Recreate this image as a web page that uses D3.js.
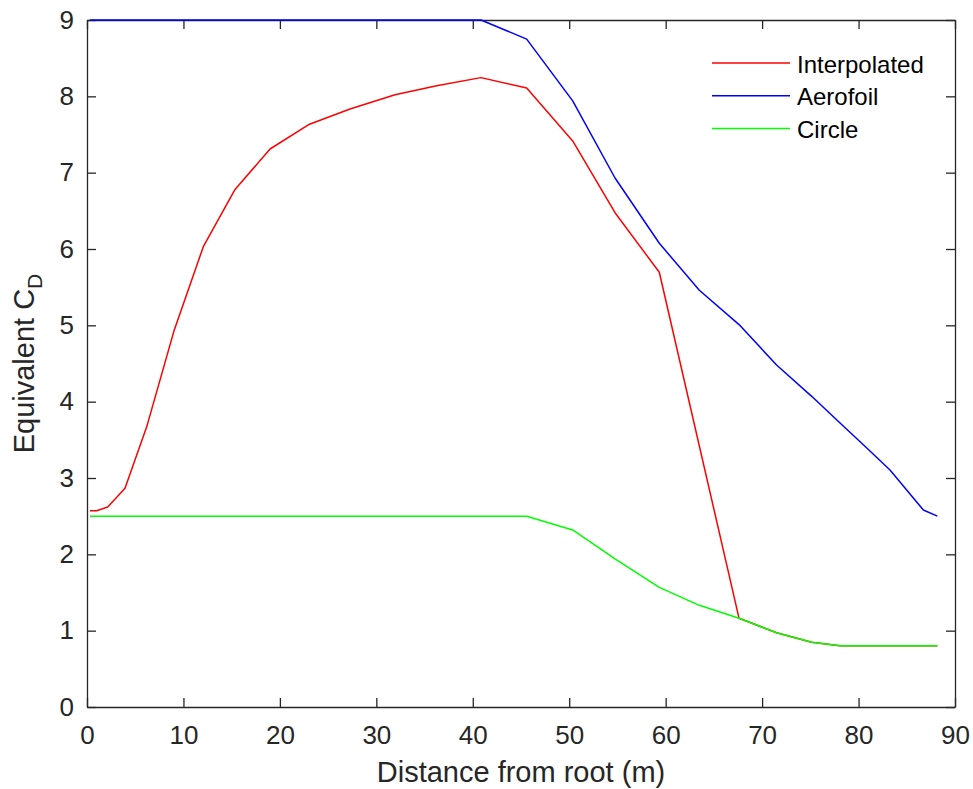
<!DOCTYPE html>
<html>
<head>
<meta charset="utf-8">
<script src="https://cdn.jsdelivr.net/npm/d3@7"></script>
<style>
  body { margin: 0; background: #fff; }
  svg { display: block; font-family: "Liberation Sans", Arial, sans-serif; }
</style>
</head>
<body>
<div id="chart"></div>
<script>
// distance from root (m) at each blade station
const distance = [0.31, 1.0, 2.15, 3.94, 6.19, 9.05, 12.06, 15.35, 18.98, 23.07, 27.27, 31.94, 36.26, 40.85,
    45.59, 50.36, 54.75, 59.34, 63.49, 67.61, 71.5, 75.14, 78.08, 80.8, 83.26, 86.72, 88.17];

// equivalent CD, one array per series (null = no vertex at that station)
const interpolated = [2.57, 2.57, 2.62, 2.865, 3.67, 4.94, 6.03, 6.78, 7.31, 7.635, 7.835, 8.02, 8.14, 8.245,
    8.11, 7.415, 6.475, 5.695, null, 1.162, 0.973, 0.848, 0.803, 0.803, 0.803, 0.803, 0.803];
const aerofoil = [9, 9, 9, 9, 9, 9, 9, 9, 9, 9, 9, 9, 9, 9,
    8.75, 7.94, 6.93, 6.075, 5.46, 5.01, 4.48, 4.07, 3.72, 3.4, 3.105, 2.58, 2.50];
const circle = [2.5, 2.5, 2.5, 2.5, 2.5, 2.5, 2.5, 2.5, 2.5, 2.5, 2.5, 2.5, 2.5, 2.5,
    2.5, 2.319, 1.94, 1.568, 1.332, 1.162, 0.973, 0.848, 0.803, 0.803, 0.803, 0.803, 0.803];

const seriesNames = ['Interpolated', 'Aerofoil', 'Circle'];
const seriesColours = ['#ff0000', '#0000ff', '#00ff00'];

const xTicks = d3.range(0, 91, 10);
const yTicks = d3.range(0, 10, 1);

drawChart();

function drawChart() {

    const width = 973;
    const height = 789;
    const margin = {top: 20, right: 18, bottom: 82, left: 87};
    const axisColour = '#262626';

    const svg = d3.select('#chart')
        .append('svg')
            .attr('width', width)
            .attr('height', height);

    // SCALES
    const x = d3.scaleLinear()
        .domain([0, 90])
        .range([margin.left, width - margin.right]);
    const y = d3.scaleLinear()
        .domain([0, 9])
        .range([height - margin.bottom, margin.top]);

    const line = d3.line()
        .x(d => x(d.x))
        .y(d => y(d.v));

    // AXES (box on, ticks inward on all four sides)
    const tickLen = 9;
    const xAxis = (g, pos, outer) =>
        g
            .attr('transform', `translate(0,${pos})`)
            .call(d3.axisBottom(x).tickValues(xTicks).tickSizeInner(outer ? -tickLen : tickLen).tickSizeOuter(0))
            .call(g => g.select('.domain').attr('stroke', axisColour).attr('stroke-width', 1.3));
    const yAxis = (g, pos, right) =>
        g
            .attr('transform', `translate(${pos},0)`)
            .call(d3.axisLeft(y).tickValues(yTicks).tickSizeInner(right ? tickLen : -tickLen).tickSizeOuter(0))
            .call(g => g.select('.domain').attr('stroke', axisColour).attr('stroke-width', 1.3));

    const bottom = svg.append('g').call(xAxis, y(0), true);
    bottom.selectAll('.tick text')
        .attr('y', 19)
        .attr('dy', '0.71em')
        .style('font-size', '26px')
        .attr('fill', axisColour);
    const left = svg.append('g').call(yAxis, x(0), false);
    left.selectAll('.tick text')
        .attr('x', -13)
        .style('font-size', '26px')
        .attr('fill', axisColour);
    const top = svg.append('g').call(xAxis, y(9), false);
    top.selectAll('.tick text').remove();
    const right = svg.append('g').call(yAxis, x(90), true);
    right.selectAll('.tick text').remove();
    svg.selectAll('.tick line').attr('stroke', axisColour).attr('stroke-width', 1.3);

    // axis labels
    svg.append('text')
        .attr('x', (x(0) + x(90)) / 2)
        .attr('y', 782)
        .attr('text-anchor', 'middle')
        .attr('fill', axisColour)
        .style('font-size', '29px')
        .text('Distance from root (m)');

    const yl = svg.append('text')
        .attr('transform', `translate(34,${(y(0) + y(9)) / 2}) rotate(-90)`)
        .attr('text-anchor', 'middle')
        .attr('fill', axisColour)
        .style('font-size', '29px');
    yl.append('tspan').text('Equivalent C');
    yl.append('tspan')
        .attr('dy', 8)
        .style('font-size', '21px')
        .text('D');

    // LINES
    const allSeries = [interpolated, aerofoil, circle];
    allSeries.forEach((vals, i) => {
        const pts = distance.map((d, j) => ({x: d, v: vals[j]}))
            .filter(d => d.v != null);
        svg.append('path')
            .datum(pts)
                .attr('fill', 'none')
                .attr('stroke', seriesColours[i])
                .attr('stroke-width', 1.5)
                .attr('stroke-linejoin', 'round')
                .attr('d', line);
    });

    // LEGEND
    const legend = svg.append('g')
        .attr('transform', 'translate(712,63)');
    seriesNames.forEach((name, i) => {
        const row = legend.append('g')
            .attr('transform', `translate(0,${i * 32.7})`);
        row.append('line')
            .attr('x1', 0)
            .attr('x2', 78)
            .attr('stroke', seriesColours[i])
            .attr('stroke-width', 1.5);
        row.append('text')
            .attr('x', 85)
            .attr('y', 1)
            .attr('dominant-baseline', 'central')
            .attr('fill', '#000')
            .style('font-size', '24px')
            .text(name);
    });
}
</script>
</body>
</html>
